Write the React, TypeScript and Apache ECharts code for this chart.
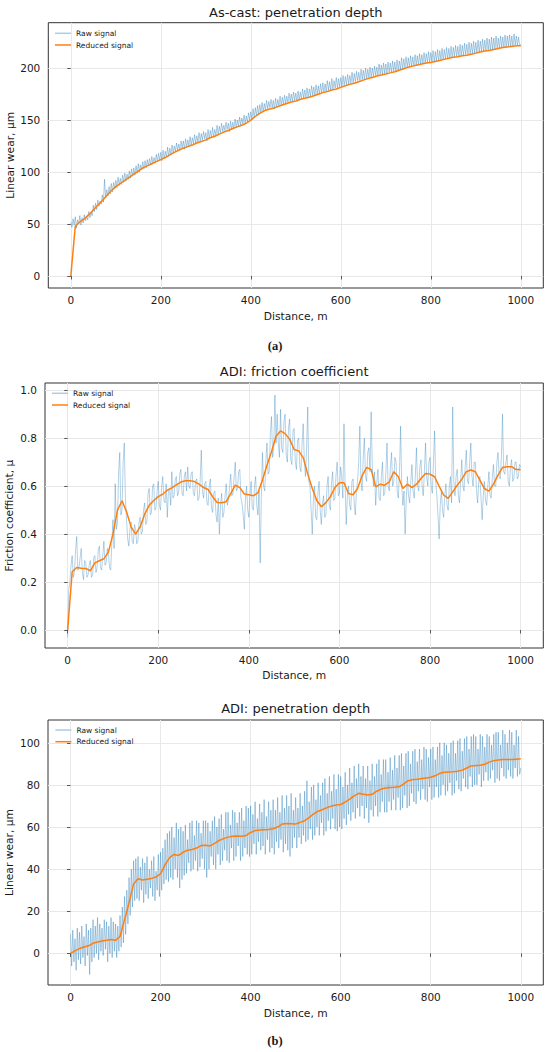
import React, { useEffect, useRef } from "react";
import * as echarts from "echarts";

// ---- data ----
const RAW_STEP = 2.5; // m between raw samples
const RED_STEP = 10; // m between reduced samples
const xTicks = [0, 200, 400, 600, 800, 1000];
const yTicksCast = [0, 50, 100, 150, 200];
const yTicksFric = [0, 0.2, 0.4, 0.6, 0.8, 1.0];
const yTicksAdi = [0, 20, 40, 60, 80, 100];

const titles = ["As-cast: penetration depth", "ADI: friction coefficient", "ADI: penetration depth"];
const yNames = ["Linear wear, μm", "Friction coefficient, μ", "Linear wear, μm"];
const xName = "Distance, m";
const panelLabels = ["(a)", "(b)"];
const legendNames = ["Raw signal", "Reduced signal"];

const rawCast = [
  52, 47, 55, 49, 57, 46, 54, 50, 58, 49, 56, 51, 59, 53, 57, 54, 62, 56, 61, 58,
  68, 62, 70, 64, 73, 67, 72, 69, 78, 71, 93, 75, 83, 77, 86, 79, 89, 81, 90, 84,
  92, 85, 95, 87, 94, 88, 97, 90, 99, 91, 98, 93, 101, 94, 103, 96, 104, 97, 106, 99,
  108, 100, 107, 102, 110, 103, 111, 104, 112, 106, 113, 107, 115, 108, 114, 109, 117, 110, 118, 111,
  119, 111, 121, 113, 120, 114, 124, 115, 123, 117, 126, 118, 125, 120, 128, 121, 127, 122, 130, 123,
  130, 122, 132, 124, 131, 125, 134, 126, 133, 127, 136, 128, 135, 129, 138, 130, 137, 131, 139, 132,
  138, 130, 141, 132, 140, 133, 143, 134, 141, 135, 145, 136, 144, 138, 147, 139, 145, 140, 148, 141,
  147, 139, 149, 141, 148, 142, 151, 143, 150, 144, 153, 145, 152, 146, 155, 147, 154, 148, 157, 150,
  158, 150, 161, 152, 162, 154, 164, 155, 165, 157, 167, 158, 166, 160, 169, 161, 168, 162, 170, 162,
  169, 161, 171, 162, 170, 163, 173, 164, 172, 165, 174, 166, 173, 167, 176, 168, 175, 168, 177, 169,
  176, 168, 178, 169, 177, 170, 180, 171, 179, 172, 181, 172, 180, 173, 183, 174, 182, 174, 184, 175,
  183, 175, 185, 176, 186, 177, 185, 178, 188, 179, 187, 179, 190, 180, 188, 181, 191, 181, 190, 182,
  191, 182, 193, 183, 192, 184, 194, 185, 193, 186, 196, 186, 195, 187, 197, 188, 196, 188, 199, 189,
  198, 189, 200, 190, 199, 191, 201, 191, 200, 192, 202, 193, 201, 193, 204, 194, 203, 194, 205, 195,
  204, 195, 206, 196, 205, 196, 207, 197, 206, 197, 208, 198, 207, 199, 210, 199, 209, 200, 211, 201,
  210, 201, 212, 202, 211, 202, 213, 203, 212, 203, 214, 204, 213, 204, 215, 205, 214, 205, 216, 206,
  215, 206, 217, 206, 216, 207, 218, 207, 217, 208, 219, 208, 218, 209, 220, 209, 219, 210, 221, 210,
  220, 211, 222, 211, 221, 211, 223, 212, 222, 212, 224, 213, 223, 213, 225, 213, 224, 214, 226, 214,
  225, 215, 227, 215, 226, 216, 228, 216, 227, 217, 229, 217, 228, 217, 230, 218, 229, 218, 231, 219,
  229, 219, 231, 220, 230, 220, 232, 220, 231, 221, 232, 221, 231, 221, 233, 222, 231, 222, 230, 222,
  223,
];

const redCast = [
  0, 48, 52, 55, 59, 63.5, 68, 72.5, 77.5, 82,
  86, 89, 92, 95, 98, 101, 104, 106, 108, 110,
  112, 114, 116.5, 119, 121, 123, 124.5, 126, 128, 129.5,
  131, 133, 134.5, 136.5, 138.5, 140, 142, 143.5, 145, 147,
  150, 153.5, 156.5, 159, 160.5, 161.5, 163, 164.5, 166, 167.5,
  168.5, 170, 171, 172, 173.5, 175, 176.5, 177.5, 179, 180,
  181.5, 183, 184.5, 185.5, 187, 188.5, 190, 191, 192.5, 193.5,
  194.5, 195.5, 196.5, 198, 199.5, 201, 202, 203, 204, 205,
  205.5, 206.5, 207.5, 208.5, 209.5, 210.5, 211, 212, 212.5, 213.5,
  214.5, 215.5, 216.5, 217, 218, 219, 220, 220.5, 221, 221.5,
  221.5,
];

const rawFric = [
  -0.03, 0.17, 0.2, 0.27, 0.31, 0.22, 0.24, 0.33, 0.39, 0.25, 0.26, 0.3, 0.34, 0.24, 0.21, 0.29, 0.28, 0.22, 0.23, 0.27,
  0.29, 0.22, 0.23, 0.3, 0.31, 0.24, 0.26, 0.33, 0.35, 0.26, 0.25, 0.31, 0.37, 0.27, 0.28, 0.34, 0.32, 0.26, 0.25, 0.36,
  0.46, 0.34, 0.61, 0.42, 0.45, 0.66, 0.74, 0.48, 0.5, 0.7, 0.78, 0.55, 0.46, 0.38, 0.35, 0.42, 0.45, 0.37, 0.36, 0.44,
  0.42, 0.36, 0.37, 0.45, 0.47, 0.4, 0.41, 0.5, 0.53, 0.44, 0.45, 0.57, 0.59, 0.48, 0.49, 0.6, 0.61, 0.5, 0.51, 0.58,
  0.62, 0.52, 0.5, 0.6, 0.64, 0.54, 0.53, 0.61, 0.47, 0.58, 0.59, 0.52, 0.66, 0.55, 0.56, 0.63, 0.64, 0.56, 0.57, 0.65,
  0.67, 0.57, 0.56, 0.64, 0.66, 0.58, 0.68, 0.6, 0.59, 0.65, 0.66, 0.57, 0.56, 0.62, 0.63, 0.54, 0.55, 0.62, 0.75, 0.58,
  0.55, 0.61, 0.62, 0.53, 0.52, 0.6, 0.63, 0.51, 0.49, 0.57, 0.58, 0.48, 0.45, 0.55, 0.4, 0.52, 0.57, 0.47, 0.49, 0.56,
  0.61, 0.52, 0.54, 0.6, 0.65, 0.56, 0.57, 0.64, 0.7, 0.58, 0.59, 0.66, 0.67, 0.55, 0.53, 0.48, 0.42, 0.55, 0.6, 0.5,
  0.47, 0.56, 0.62, 0.51, 0.5, 0.6, 0.64, 0.52, 0.48, 0.58, 0.28, 0.55, 0.74, 0.6, 0.58, 0.7, 0.78, 0.65, 0.66, 0.82,
  0.89, 0.72, 0.76, 0.98, 0.78, 0.9, 0.78, 0.72, 0.92, 0.76, 0.74, 0.87, 0.9, 0.73, 0.7, 0.84, 0.88, 0.71, 0.69, 0.83,
  0.84, 0.7, 0.67, 0.79, 0.8, 0.68, 0.66, 0.78, 0.86, 0.7, 0.64, 0.76, 0.93, 0.62, 0.6, 0.5, 0.4, 0.55, 0.6, 0.47,
  0.46, 0.57, 0.62, 0.5, 0.44, 0.53, 0.56, 0.47, 0.48, 0.6, 0.64, 0.52, 0.5, 0.61, 0.66, 0.54, 0.55, 0.65, 0.7, 0.56,
  0.57, 0.68, 0.64, 0.55, 0.86, 0.6, 0.44, 0.56, 0.6, 0.52, 0.5, 0.62, 0.63, 0.53, 0.48, 0.58, 0.62, 0.7, 0.85, 0.62,
  0.58, 0.72, 0.8, 0.64, 0.62, 0.74, 0.76, 0.66, 0.91, 0.68, 0.6, 0.66, 0.52, 0.62, 0.67, 0.55, 0.54, 0.64, 0.7, 0.56,
  0.57, 0.66, 0.78, 0.6, 0.58, 0.68, 0.74, 0.6, 0.62, 0.72, 0.7, 0.58, 0.55, 0.66, 0.85, 0.6, 0.52, 0.58, 0.4, 0.55,
  0.64, 0.56, 0.53, 0.62, 0.69, 0.58, 0.55, 0.64, 0.76, 0.6, 0.58, 0.68, 0.71, 0.6, 0.56, 0.66, 0.78, 0.64, 0.6, 0.7,
  0.72, 0.6, 0.57, 0.7, 0.83, 0.62, 0.56, 0.48, 0.38, 0.52, 0.58, 0.5, 0.47, 0.56, 0.61, 0.52, 0.5, 0.6, 0.64, 0.53,
  0.93, 0.62, 0.56, 0.64, 0.67, 0.56, 0.53, 0.62, 0.71, 0.6, 0.58, 0.68, 0.75, 0.62, 0.61, 0.7, 0.78, 0.64, 0.6, 0.7,
  0.7, 0.58, 0.53, 0.62, 0.64, 0.55, 0.46, 0.56, 0.62, 0.54, 0.52, 0.6, 0.66, 0.56, 0.55, 0.64, 0.69, 0.6, 0.6, 0.7,
  0.74, 0.64, 0.63, 0.72, 0.9, 0.66, 0.65, 0.7, 0.73, 0.62, 0.6, 0.68, 0.71, 0.62, 0.63, 0.7, 0.7, 0.63, 0.64, 0.69,
  0.68,
];

const redFric = [
  0, 0.243, 0.261, 0.258, 0.257, 0.247, 0.28, 0.289, 0.297, 0.326,
  0.4, 0.5, 0.539, 0.493, 0.43, 0.4, 0.43, 0.483, 0.52, 0.54,
  0.556, 0.567, 0.583, 0.593, 0.605, 0.617, 0.622, 0.622, 0.619, 0.608,
  0.594, 0.586, 0.556, 0.532, 0.531, 0.535, 0.569, 0.604, 0.594, 0.567,
  0.564, 0.56, 0.572, 0.625, 0.687, 0.743, 0.808, 0.83, 0.819, 0.796,
  0.753, 0.747, 0.719, 0.65, 0.59, 0.54, 0.514, 0.531, 0.556, 0.594,
  0.614, 0.614, 0.569, 0.564, 0.59, 0.643, 0.678, 0.669, 0.597, 0.608,
  0.604, 0.618, 0.66, 0.639, 0.59, 0.608, 0.594, 0.608, 0.632, 0.653,
  0.65, 0.639, 0.6, 0.563, 0.549, 0.576, 0.604, 0.628, 0.66, 0.667,
  0.66, 0.625, 0.59, 0.579, 0.608, 0.646, 0.678, 0.681, 0.681, 0.669,
  0.669,
];

const rawAdi = [
  9, -6, 11, -4, 7, -8, 12, -3, 10, -5, 13, -2, 8, -6, 14, -1, 11, -10, 12, -4,
  16, -2, 13, 0, 17, -3, 14, 1, 12, -1, 16, 2, 15, -4, 13, 0, 17, -2, 15, 1,
  14, -2, 13, 1, 18, 3, 22, 5, 27, 9, 30, 14, 36, 18, 40, 22, 44, 25, 45, 26,
  46, 25, 41, 30, 45, 24, 43, 28, 46, 26, 40, 31, 44, 27, 46, 25, 39, 30, 47, 27,
  48, 30, 50, 33, 54, 35, 57, 34, 58, 36, 60, 35, 55, 40, 62, 36, 59, 31, 60, 35,
  58, 37, 61, 38, 54, 43, 62, 39, 63, 40, 56, 44, 63, 39, 62, 41, 57, 45, 63, 40,
  63, 36, 62, 40, 58, 46, 63, 42, 65, 40, 60, 47, 64, 42, 66, 44, 59, 49, 67, 44,
  67, 43, 61, 50, 68, 44, 67, 46, 62, 51, 67, 44, 69, 46, 63, 50, 70, 47, 69, 46,
  70, 47, 66, 52, 72, 47, 64, 53, 71, 49, 67, 51, 73, 47, 65, 54, 72, 48, 68, 50,
  73, 47, 68, 53, 74, 50, 67, 54, 75, 48, 69, 52, 75, 49, 70, 46, 76, 50, 68, 55,
  74, 50, 69, 55, 76, 52, 70, 56, 77, 53, 82, 54, 72, 59, 79, 54, 80, 56, 73, 60,
  81, 56, 75, 62, 81, 56, 83, 58, 76, 63, 84, 59, 77, 64, 85, 59, 78, 58, 85, 60,
  84, 59, 79, 64, 86, 61, 80, 66, 88, 63, 81, 67, 89, 64, 83, 69, 90, 65, 84, 70,
  89, 64, 83, 69, 89, 62, 82, 68, 90, 65, 84, 70, 90, 65, 92, 67, 85, 72, 92, 67,
  92, 67, 86, 72, 93, 68, 87, 73, 94, 68, 88, 74, 94, 68, 95, 69, 89, 75, 95, 69,
  96, 70, 90, 76, 96, 72, 97, 71, 91, 77, 97, 73, 92, 78, 98, 73, 97, 72, 93, 79,
  97, 73, 98, 74, 92, 79, 98, 74, 100, 75, 94, 80, 100, 75, 99, 77, 95, 81, 100, 75,
  101, 76, 95, 82, 101, 78, 102, 77, 96, 83, 102, 79, 103, 78, 97, 84, 103, 79, 104, 80,
  103, 80, 97, 85, 104, 79, 103, 82, 98, 86, 104, 82, 103, 83, 99, 87, 104, 81, 105, 83,
  105, 82, 99, 88, 106, 84, 104, 83, 100, 87, 106, 84, 105, 83, 99, 88, 106, 84, 103, 85,
  88,
];

const redAdi = [
  0, 1.2, 2.3, 3, 3.6, 4.8, 5.4, 5.9, 6.2, 6.6,
  6.2, 8, 16, 24, 33, 35.4, 34.8, 35.2, 35.6, 36.3,
  37.8, 42, 45.5, 47, 46.5, 48, 49, 49.3, 50, 51.2,
  51.3, 51, 52.2, 53.6, 54.5, 55.2, 55.6, 55.7, 55.6, 56,
  57.4, 58.3, 58.6, 58.7, 58.8, 59.2, 60, 61.4, 61.7, 61.6,
  61.4, 62.2, 63, 64.5, 66.2, 67.5, 68.3, 69.2, 70, 70.4,
  70.7, 71.8, 73.2, 74.8, 76, 75.6, 75.2, 75.5, 77, 78,
  78.5, 78.8, 78.9, 79.1, 80.5, 82, 82.5, 82.7, 83, 83.3,
  83.6, 84.3, 85.5, 86, 86.1, 86.2, 86.5, 87, 88, 89,
  89.2, 89.3, 89.8, 90.8, 91.5, 91.8, 92, 92.1, 92, 92.2,
  92.4,
];

const pairs = (arr: number[], step: number) => arr.map((v, i) => [i * step, v]);

const FONT = "DejaVu Sans";
const TXT = "#1a1a1a";

const grids = [
  { left: 48.3, top: 22.7, width: 495, height: 265.3 },
  { left: 45, top: 383, width: 498.3, height: 265 },
  { left: 48, top: 720, width: 495.3, height: 265 },
];
const yRanges = [
  [-11.6, 243.8],
  [-0.075, 1.03],
  [-15, 110.8],
];
const yTickSets = [yTicksCast, yTicksFric, yTicksAdi];
const rawSets = [rawCast, rawFric, rawAdi];
const redSets = [redCast, redFric, redAdi];
const rawWidths = [0.9, 0.8, 0.9];

function buildOption() {
  const xAxis = grids.map((_, i) => ({
    type: "value",
    gridIndex: i,
    min: -50,
    max: 1050,
    axisLine: { show: false },
    axisTick: { show: true, customValues: xTicks, length: 3.5, lineStyle: { color: "#333", width: 0.8 } },
    axisLabel: {
      customValues: xTicks,
      margin: 6.5,
      color: TXT,
      fontFamily: FONT,
      fontSize: 10.5,
      formatter: (v: number) => String(Math.round(v)),
    },
    splitLine: { show: true, lineStyle: { color: "#e8e8e8", width: 1 } },
  }));
  const yAxis = grids.map((_, i) => ({
    type: "value",
    gridIndex: i,
    min: yRanges[i][0],
    max: yRanges[i][1],
    axisLine: { show: false },
    axisTick: { show: true, customValues: yTickSets[i], length: 3.5, lineStyle: { color: "#333", width: 0.8 } },
    axisLabel: {
      customValues: yTickSets[i],
      margin: 8,
      color: TXT,
      fontFamily: FONT,
      fontSize: 10.5,
      formatter: i === 1 ? (v: number) => v.toFixed(1) : (v: number) => String(Math.round(v)),
    },
    splitLine: { show: true, lineStyle: { color: "#e8e8e8", width: 1 } },
  }));
  const series: any[] = [];
  grids.forEach((_, i) => {
    series.push({
      type: "line",
      name: legendNames[0],
      xAxisIndex: i,
      yAxisIndex: i,
      data: pairs(rawSets[i], RAW_STEP),
      symbol: "none",
      silent: true,
      itemStyle: { color: "#1f77b4" },
      lineStyle: { color: "#1f77b4", width: rawWidths[i], opacity: 0.42 },
      z: 2,
    });
    series.push({
      type: "line",
      name: legendNames[1],
      xAxisIndex: i,
      yAxisIndex: i,
      data: pairs(redSets[i], RED_STEP),
      symbol: "none",
      silent: true,
      itemStyle: { color: "#ff7f0e" },
      lineStyle: { color: "#ff7f0e", width: 1.5 },
      z: 3,
    });
  });
  const legendPos = [
    { left: 55, top: 29.3 },
    { left: 52, top: 389.3 },
    { left: 55.4, top: 726 },
  ];
  const legend = legendPos.map((p) => ({
    left: p.left,
    top: p.top,
    orient: "vertical",
    icon: "rect",
    itemWidth: 16,
    itemHeight: 1.5,
    itemGap: 3.7,
    padding: 0,
    selectedMode: false,
    textStyle: { fontFamily: FONT, fontSize: 7.5, lineHeight: 8, color: TXT },
    data: [
      { name: legendNames[0], icon: "rect", itemStyle: { color: "#a9cde9", borderWidth: 0 } },
      { name: legendNames[1], icon: "rect", itemStyle: { color: "#ff7f0e", borderWidth: 0 } },
    ],
  }));
  const centers = grids.map((g) => g.left + g.width / 2);
  const titleY = [12.3, 371.7, 708.3];
  const xNameY = [316, 675, 1013];
  const yNameX = [10, 9.5, 9.5];
  const text = (x: number, y: number, t: string, size: number, extra: any = {}) => ({
    type: "text",
    x,
    y,
    silent: true,
    ...extra,
    style: {
      text: t,
      fontFamily: FONT,
      fontSize: size,
      fill: TXT,
      align: "center",
      verticalAlign: "middle",
      ...(extra.style || {}),
    },
  });
  const graphic: any[] = [];
  grids.forEach((g, i) => {
    graphic.push(text(centers[i], titleY[i], titles[i], 13));
    graphic.push(text(centers[i], xNameY[i], xName, 10.7));
    graphic.push(text(yNameX[i], g.top + g.height / 2, yNames[i], 10.7, { rotation: Math.PI / 2 }));
  });
  const serifBold = { style: { fontFamily: "Liberation Serif", fontWeight: "bold" } };
  graphic.push(text(275, 345.7, panelLabels[0], 12.5, serifBold));
  graphic.push(text(275, 1041, panelLabels[1], 12.5, serifBold));

  return {
    animation: false,
    backgroundColor: "#ffffff",
    grid: grids.map((g) => ({ ...g, show: true, borderColor: "#333", borderWidth: 1, backgroundColor: "transparent" })),
    xAxis,
    yAxis,
    legend,
    series,
    graphic,
  };
}

export default function App() {
  const ref = useRef<HTMLDivElement>(null);
  useEffect(() => {
    if (!ref.current) return;
    const chart = echarts.init(ref.current, null, { renderer: "svg" });
    chart.setOption(buildOption() as any);
    return () => chart.dispose();
  }, []);
  return (
    <div
      ref={ref}
      style={{ position: "absolute", left: 0, top: 0, width: 550, height: 1052, background: "#fff" }}
    />
  );
}
